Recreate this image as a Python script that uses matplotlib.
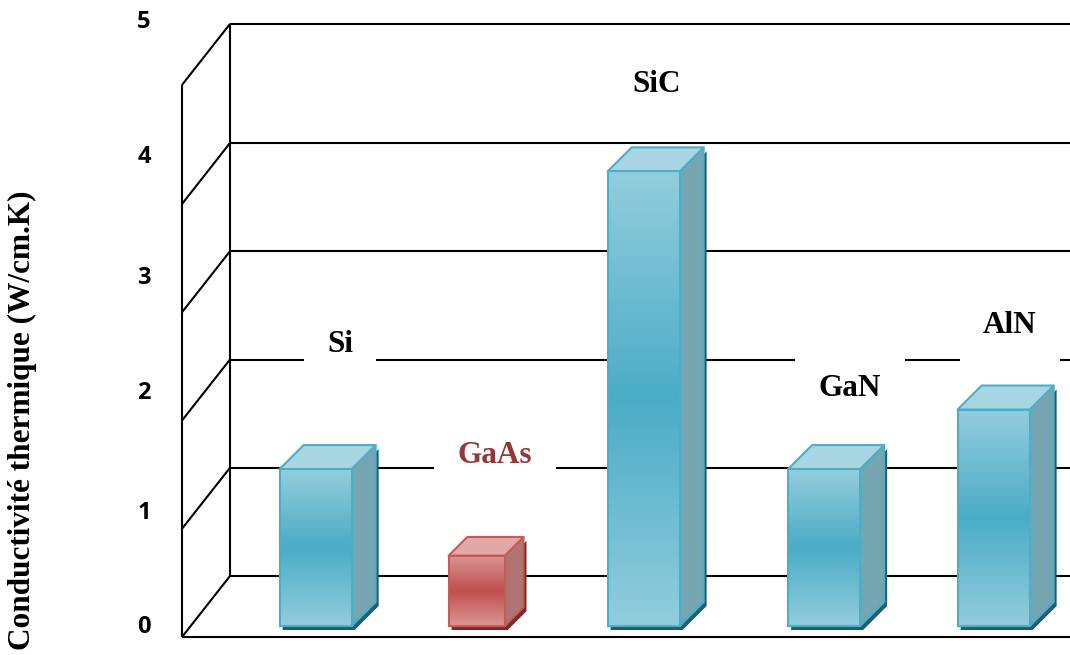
import matplotlib
matplotlib.use("Agg")
import matplotlib.pyplot as plt
import numpy as np
from matplotlib.colors import LinearSegmentedColormap
from matplotlib.patches import Polygon, Rectangle

# data
materials = ["Si", "GaAs", "SiC", "GaN", "AlN"]
conductivity = [1.45, 0.65, 4.2, 1.45, 2.0]
axis_ticks = [0, 1, 2, 3, 4, 5]
ylabel = "Conductivit\u00e9 thermique (W/cm.K)"

# style / layout
bar_pos = [0.0, 0.95, 1.935, 3.0, 4.0]
bar_scale = [1.0, 0.78, 1.0, 1.0, 1.0]
bar_style = ["blue", "red", "blue", "blue", "blue"]
label_dx = [0.195, 0.159, 0.13, 0.204, 0.147]
label_y = [2.70, 1.68, 5.10, 2.30, 2.88]
label_color = ["black", "#953735", "black", "black", "black"]
tick_label_y = [0.09, 1.15, 2.25, 3.32, 4.43, 5.68]

palettes = {
    "blue": dict(light="#93CDDD", dark="#4BACC6", top="#A8D6E3",
                 side="#74A5B0", edge="#4BAFC9", shadow="#245E6C"),
    "red": dict(light="#D99694", dark="#C0504D", top="#E2A8A7",
                side="#B07472", edge="#C55A57", shadow="#7B2927"),
}

# oblique projection: pixels per category / per unit, depth vectors
PX_CAT = 169.5
PX_VAL = 108.25
X0_PX, Y0_PX = 307, 637
DX = 48 / PX_CAT
DY = 61 / PX_VAL
BDX = 24 / PX_CAT
BDY = 24 / PX_VAL
wall_x = (182 - X0_PX) / PX_CAT
wall_top = 5.1
x_right = 4.8
half_w = 36 / PX_CAT
front_off = 0.18

fig = plt.figure(figsize=(10.7, 6.55), dpi=100)
ax = fig.add_axes([0, 0, 1, 1])
xlim = (-X0_PX / PX_CAT, (1070 - X0_PX) / PX_CAT)
ylim = ((Y0_PX - 655) / PX_VAL, Y0_PX / PX_VAL)

line_kw = dict(color="black", lw=1.5, solid_capstyle="butt", zorder=1)

# walls and gridlines
for v in axis_ticks[:-1] + [wall_top]:
    ax.plot([wall_x, wall_x + DX], [v, v + DY], **line_kw)
    ax.plot([wall_x + DX, x_right], [v + DY, v + DY], **line_kw)
ax.plot([wall_x, x_right], [0, 0], **line_kw)
ax.plot([wall_x, wall_x], [0, wall_top], **line_kw)
ax.plot([wall_x + DX, wall_x + DX], [DY, wall_top + DY], **line_kw)

# tick labels
for t, ty in zip(axis_ticks, tick_label_y):
    ax.text((144 - X0_PX) / PX_CAT, ty, str(t), ha="center", va="center",
            fontsize=17, fontweight="bold", family="Open Sans")

ax.text(22 / 1070, 1 - 420 / 655, ylabel, transform=ax.transAxes,
        rotation=90, ha="center", va="center", fontsize=22.5,
        fontweight="bold", family="Liberation Serif")

# bars
sx, sy = 3 / PX_CAT, 4 / PX_VAL
for xc, v, s, st in zip(bar_pos, conductivity, bar_scale, bar_style):
    p = palettes[st]
    w = half_w * s
    xl = xc - w + front_off * DX
    xr = xc + w + front_off * DX
    yb = front_off * DY
    yt = v + front_off * DY
    ddx, ddy = BDX * s, BDY * s

    shadow = [(xl + sx, yb - sy), (xr + sx, yb - sy),
              (xr + ddx + sx, yb + ddy - sy), (xr + ddx + sx, yt + ddy - sy),
              (xr + sx, yt - sy), (xl + sx, yt - sy)]
    ax.add_patch(Polygon(shadow, closed=True, fc=p["shadow"], ec="none", zorder=3))

    side = [(xr, yb), (xr + ddx, yb + ddy), (xr + ddx, yt + ddy), (xr, yt)]
    ax.add_patch(Polygon(side, closed=True, fc=p["side"], ec=p["edge"],
                         lw=1.5, zorder=4, joinstyle="round"))
    top = [(xl, yt), (xr, yt), (xr + ddx, yt + ddy), (xl + ddx, yt + ddy)]
    ax.add_patch(Polygon(top, closed=True, fc=p["top"], ec=p["edge"],
                         lw=1.5, zorder=4, joinstyle="round"))

    cmap = LinearSegmentedColormap.from_list(
        st, [p["light"], p["dark"], p["light"]])
    grad = np.linspace(0, 1, 256).reshape(-1, 1)
    ax.imshow(grad, cmap=cmap, extent=(xl, xr, yb, yt), aspect="auto",
              origin="upper", zorder=5, interpolation="bilinear")
    ax.add_patch(Rectangle((xl, yb), xr - xl, yt - yb, fc="none",
                           ec=p["edge"], lw=1.5, zorder=6))

# labels
for i, name in enumerate(materials):
    ax.text(bar_pos[i] + label_dx[i], label_y[i], name, ha="center",
            va="center", fontsize=22.5, fontweight="bold",
            family="Liberation Serif", color=label_color[i], zorder=2,
            bbox=dict(boxstyle="square,pad=0.75", fc="white", ec="none"))

ax.set_xlim(*xlim)
ax.set_ylim(*ylim)
ax.axis("off")

fig.savefig("out.png", dpi=100)
